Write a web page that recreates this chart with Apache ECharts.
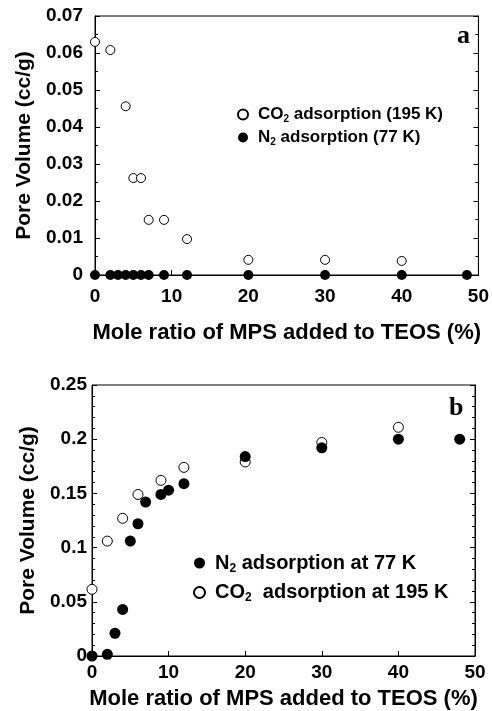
<!DOCTYPE html>
<html><head><meta charset="utf-8">
<script src="https://cdn.jsdelivr.net/npm/echarts@6/dist/echarts.min.js"></script>
<style>html,body{margin:0;padding:0;background:#fff}#c{width:492px;height:711px}</style>
</head><body><div id="c"></div>
<script>
// tick values
const xTicks = [0, 10, 20, 30, 40, 50];
const yTicksA = [0, 0.01, 0.02, 0.03, 0.04, 0.05, 0.06, 0.07];
const yTicksB = [0, 0.05, 0.1, 0.15, 0.2, 0.25];
// panel a
const aCO2x = [0, 2, 4, 5, 6, 7, 9, 12, 20, 30, 40];
const aCO2y = [0.063, 0.0608, 0.0456, 0.0262, 0.0262, 0.0149, 0.0149, 0.0097, 0.0041, 0.0041, 0.0038];
const aN2x = [0, 2, 3, 4, 5, 6, 7, 9, 12, 20, 30, 40, 48.5];
const aN2y = [0, 0, 0, 0, 0, 0, 0, 0, 0, 0, 0, 0, 0];
// panel b
const bN2x = [0, 2, 3, 4, 5, 6, 7, 9, 10, 12, 20, 30, 40, 48];
const bN2y = [0, 0.0015, 0.021, 0.043, 0.106, 0.122, 0.142, 0.149, 0.153, 0.159, 0.184, 0.192, 0.2, 0.2];
const bCO2x = [0, 2, 4, 6, 9, 12, 20, 30, 40];
const bCO2y = [0.0615, 0.106, 0.127, 0.149, 0.162, 0.174, 0.179, 0.197, 0.211];

const pair = (xs, ys) => xs.map((x, i) => [x, ys[i]]);
const FONT = 'Liberation Sans, Arial, sans-serif';
const span = t => ({ min: t[0], max: t[t.length - 1], interval: t[1] - t[0] });

function xAxis(gi, margin, gap) {
  return {
    type: 'value', gridIndex: gi, ...span(xTicks),
    name: 'Mole ratio of MPS added to TEOS (%)', nameLocation: 'middle', nameGap: gap,
    nameTextStyle: { fontFamily: FONT, fontWeight: 'bold', fontSize: 22, color: '#000' },
    axisLine: { lineStyle: { color: '#000', width: 1 } },
    axisTick: { inside: true, length: 5, lineStyle: { color: '#000' } },
    axisLabel: { margin: margin, fontFamily: FONT, fontWeight: 'bold', fontSize: 19, color: '#000' },
    splitLine: { show: false }
  };
}
function yAxis(gi, ticks, margin, gap, minorN) {
  return {
    type: 'value', gridIndex: gi, ...span(ticks),
    name: 'Pore Volume (cc/g)', nameLocation: 'middle', nameGap: gap,
    nameTextStyle: { fontFamily: FONT, fontWeight: 'bold', fontSize: 21, color: '#000' },
    axisLine: { show: true, lineStyle: { color: '#000', width: 1 } },
    axisTick: { inside: true, length: 5, lineStyle: { color: '#000' } },
    minorTick: { show: true, splitNumber: minorN, length: 3, lineStyle: { color: '#000' } },
    axisLabel: { margin: margin, fontFamily: FONT, fontWeight: 'bold', fontSize: 19, color: '#000' },
    splitLine: { show: false }, minorSplitLine: { show: false }
  };
}
function yMirror(gi, ticks, minorN) {
  return {
    type: 'value', gridIndex: gi, ...span(ticks), position: 'right',
    axisLine: { show: true, lineStyle: { color: '#000', width: 1 } },
    axisTick: { inside: true, length: 5, lineStyle: { color: '#000' } },
    minorTick: { show: true, splitNumber: minorN, length: 3, lineStyle: { color: '#000' } },
    axisLabel: { show: false }, splitLine: { show: false }, minorSplitLine: { show: false }
  };
}

const openStyle = { color: '#fff', borderColor: '#000', borderWidth: 1, opacity: 1 };
const fillStyle = { color: '#000', borderColor: '#000', borderWidth: 0, opacity: 1 };

function rich(size, sub) {
  return {
    n: { fontFamily: FONT, fontWeight: 'bold', fontSize: size, color: '#000' },
    p: { fontFamily: FONT, fontWeight: 'bold', fontSize: size, color: '#000', padding: [0, 0, 0, 5] },
    s: { fontFamily: FONT, fontWeight: 'bold', fontSize: sub, color: '#000', padding: [Math.round(size * 0.55), 0, 0, 0] }
  };
}

const nameA1 = 'CO2 adsorption (195 K)';
const nameA2 = 'N2 adsorption (77 K)';
const nameB1 = 'N2 adsorption at 77 K';
const nameB2 = 'CO2  adsorption at 195 K';
const fmt = n => {
  const m = n.match(/^(CO|N)2(.*)$/);
  return '{p|' + m[1] + '}{s|2}{n|' + m[2] + '}';
};

const chart = echarts.init(document.getElementById('c'), null, { renderer: 'canvas' });
chart.setOption({
  animation: false,
  backgroundColor: '#fff',
  title: [
    { text: 'a', left: 452, top: 18, textStyle: { fontFamily: 'Liberation Serif, serif', fontWeight: 'bold', fontSize: 26, color: '#000' } },
    { text: 'b', left: 444, top: 390, textStyle: { fontFamily: 'Liberation Serif, serif', fontWeight: 'bold', fontSize: 26, color: '#000' } }
  ],
  grid: [
    { left: 95, top: 16, width: 386, height: 259, show: true, borderColor: '#000', borderWidth: 1, backgroundColor: 'transparent' },
    { left: 92, top: 385, width: 383, height: 271, show: true, borderColor: '#000', borderWidth: 1, backgroundColor: 'transparent' }
  ],
  xAxis: [xAxis(0, 12, 47), xAxis(1, 7, 32)],
  yAxis: [yAxis(0, yTicksA, 12, 56, 2), yAxis(1, yTicksB, 5, 47, 5), yMirror(0, yTicksA, 2), yMirror(1, yTicksB, 5)],
  legend: [
    {
      data: [nameA1, nameA2], orient: 'vertical', left: 232, top: 101,
      itemWidth: 10, itemHeight: 10, itemGap: 5, selectedMode: false,
      formatter: fmt, textStyle: { rich: rich(17, 10) }
    },
    {
      data: [nameB1, nameB2], orient: 'vertical', left: 188, top: 548,
      itemWidth: 11, itemHeight: 11, itemGap: 8, selectedMode: false,
      formatter: fmt, textStyle: { rich: rich(20, 12) }
    }
  ],
  series: [
    { name: nameA1, type: 'scatter', xAxisIndex: 0, yAxisIndex: 0, symbol: 'circle', symbolSize: 9, itemStyle: openStyle, data: pair(aCO2x, aCO2y) },
    { name: nameA2, type: 'scatter', xAxisIndex: 0, yAxisIndex: 0, symbol: 'circle', symbolSize: 10, itemStyle: fillStyle, data: pair(aN2x, aN2y) },
    { name: nameB2, type: 'scatter', xAxisIndex: 1, yAxisIndex: 1, symbol: 'circle', symbolSize: 10, itemStyle: openStyle, data: pair(bCO2x, bCO2y) },
    { name: nameB1, type: 'scatter', xAxisIndex: 1, yAxisIndex: 1, symbol: 'circle', symbolSize: 11, itemStyle: fillStyle, data: pair(bN2x, bN2y) }
  ]
});
</script></body></html>
